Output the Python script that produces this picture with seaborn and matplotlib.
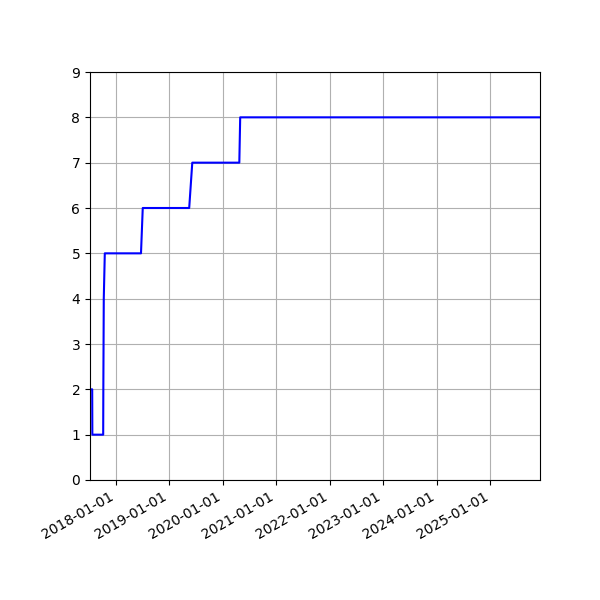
import pandas as pd
import matplotlib
matplotlib.use("Agg")
import matplotlib.pyplot as plt
import matplotlib.dates as mdates
import seaborn as sns

# step-like count over time
dates = [
    "2017-07-10", "2017-07-25", "2017-07-26", "2017-10-08", "2017-10-09",
    "2017-10-12", "2017-10-19", "2018-06-23", "2018-07-05", "2019-05-18",
    "2019-06-08", "2020-04-24", "2020-04-30", "2025-12-06",
]
counts = [2, 2, 1, 1, 2, 4, 5, 5, 6, 6, 7, 7, 8, 8]


def main():
    df = pd.DataFrame({"date": pd.to_datetime(dates), "count": counts})

    fig, ax = plt.subplots(figsize=(6, 6), dpi=100)
    sns.lineplot(data=df, x="date", y="count", color="b", ax=ax)

    ax.set_xlim(df["date"].min(), df["date"].max())
    ax.set_ylim(0, 9)
    ax.set_yticks(range(0, 10))
    ax.xaxis.set_major_locator(mdates.YearLocator())
    ax.xaxis.set_major_formatter(mdates.DateFormatter("%Y-%m-%d"))
    ax.set_xlabel("")
    ax.set_ylabel("")
    ax.grid(True)

    fig.autofmt_xdate()
    fig.subplots_adjust(left=0.15, right=0.9, top=0.88, bottom=0.2)
    fig.savefig("out.png", dpi=100)


if __name__ == "__main__":
    main()
